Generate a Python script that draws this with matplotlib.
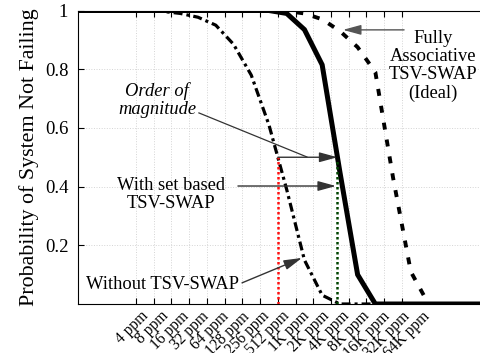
import numpy as np
import matplotlib
matplotlib.use('Agg')
import matplotlib.pyplot as plt

plt.rcParams['font.family'] = ['Liberation Serif', 'DejaVu Serif']

# etiquetes de l'eix x (ppm)
etiquetes = ['4 ppm', '8 ppm', '16 ppm', '32 ppm', '64 ppm', '128 ppm', '256 ppm',
             '512 ppm', '1K ppm', '2K ppm', '4K ppm', '8K ppm', '16K ppm',
             '32K ppm', '64K ppm']

# posicions dels punts (index de la rejilla, mig pas despres de cada tick)
pos = [-3.5, -2.5, -1.5, -0.5, 0.5, 1.5, 2.5, 3.5, 4.5, 5.5, 6.5, 7.5, 8.5,
       9.5, 10.5, 11.5, 12.5, 13.5, 14.5, 15.5, 16.5, 17.5, 18.5, 19.5, 20.5]

sense_swap = [1.0, 1.0, 1.0, 1.0, 1.0, 0.997, 0.99, 0.977, 0.95, 0.885, 0.78, 0.61,
              0.39, 0.15, 0.03, 0.0, 0.0, 0.0, 0.0, 0.0, 0.0, 0.0, 0.0, 0.0, 0.0]
set_based = [1.0, 1.0, 1.0, 1.0, 1.0, 1.0, 1.0, 1.0, 1.0, 1.0, 1.0, 1.0,
             0.99, 0.935, 0.815, 0.45, 0.10, 0.0, 0.0, 0.0, 0.0, 0.0, 0.0, 0.0, 0.0]
fully_assoc = [1.0, 1.0, 1.0, 1.0, 1.0, 1.0, 1.0, 1.0, 1.0, 1.0, 1.0, 1.0,
               0.998, 0.99, 0.97, 0.93, 0.875, 0.79, 0.43, 0.11, 0.0, 0.0, 0.0, 0.0, 0.0]

fig = plt.figure(figsize=(4.81, 3.53), dpi=100)
ax = fig.add_axes([78/481, 49/353, 412.6/481, 293.5/353])

ax.plot(pos, fully_assoc, color='black', lw=2.8, linestyle=(0, (1.8, 2.6)))
ax.plot(pos, sense_swap, color='black', lw=2.3, linestyle=(0, (2.8, 1.25, 0.95, 1.25)))
ax.plot(pos, set_based, color='black', lw=3.6, solid_joinstyle='miter')

ax.set_xlim(-3.27, 20)
ax.set_ylim(0, 1)

ax.set_xticks(np.arange(16))
ax.set_xticklabels([''] * 16)
ax.set_yticks([0.2, 0.4, 0.6, 0.8, 1.0])
ax.set_yticklabels(['0.2', '0.4', '0.6', '0.8', '1'])
ax.tick_params(direction='in', length=4, width=0.8, top=True, right=True,
               labelsize=13.5, pad=7)
ax.grid(True, color='#d4d4d4', linestyle=':', lw=0.7)
ax.set_axisbelow(True)
for s in ax.spines.values():
    s.set_linewidth(0.8)

# etiquetes rotades
for i, e in enumerate(etiquetes):
    ax.text(0.254 + 1.134 * i, -0.015, e, rotation=45, ha='right', va='top',
            rotation_mode='anchor', fontsize=11.2,
            transform=ax.get_xaxis_transform())

ax.set_ylabel('Probability of System Not Failing', fontsize=15.8, labelpad=4)

# punts on es creua 0.5
x_red = np.interp(0.5, sense_swap[::-1], pos[::-1])
x_green = np.interp(0.5, set_based[::-1], pos[::-1])
ax.plot([x_red, x_red], [0, 0.5], color='#ff1010', lw=1.8, linestyle=(0, (1, 1)))
ax.plot([x_green, x_green], [0, 0.49], color='#004400', lw=1.8, linestyle=(0, (1, 1)))

fl = dict(arrowstyle='-|>,head_length=1.1,head_width=0.3', color='#333333', lw=1.0,
          shrinkA=0, shrinkB=0)
ax.annotate('', xy=(x_green, 0.5), xytext=(x_red, 0.5), arrowprops=fl)
ax.plot([3.55, 9.64], [0.651, 0.501], color='#333333', lw=0.9)
ax.text(1.18, 0.694, 'Order of\nmagnitude', style='italic', fontsize=13.3,
        ha='center', va='center', linespacing=1.1)

ax.annotate('', xy=(11.28, 0.402), xytext=(5.75, 0.402), arrowprops=fl)
ax.text(2.0, 0.372, 'With set based\nTSV-SWAP', fontsize=13.3, ha='center',
        va='center', linespacing=1.1)

ax.annotate('', xy=(9.36, 0.157), xytext=(5.98, 0.072), arrowprops=fl)
ax.text(1.52, 0.065, 'Without TSV-SWAP', fontsize=13.3, ha='center', va='center')

ax.annotate('', xy=(11.67, 0.934), xytext=(15.12, 0.934),
            arrowprops=dict(fl, color='#555555'))
ax.text(16.75, 0.812, 'Fully\nAssociative\nTSV-SWAP\n(Ideal)', fontsize=13.3,
        ha='center', va='center', linespacing=1.1)

fig.savefig('out.png', dpi=100)
